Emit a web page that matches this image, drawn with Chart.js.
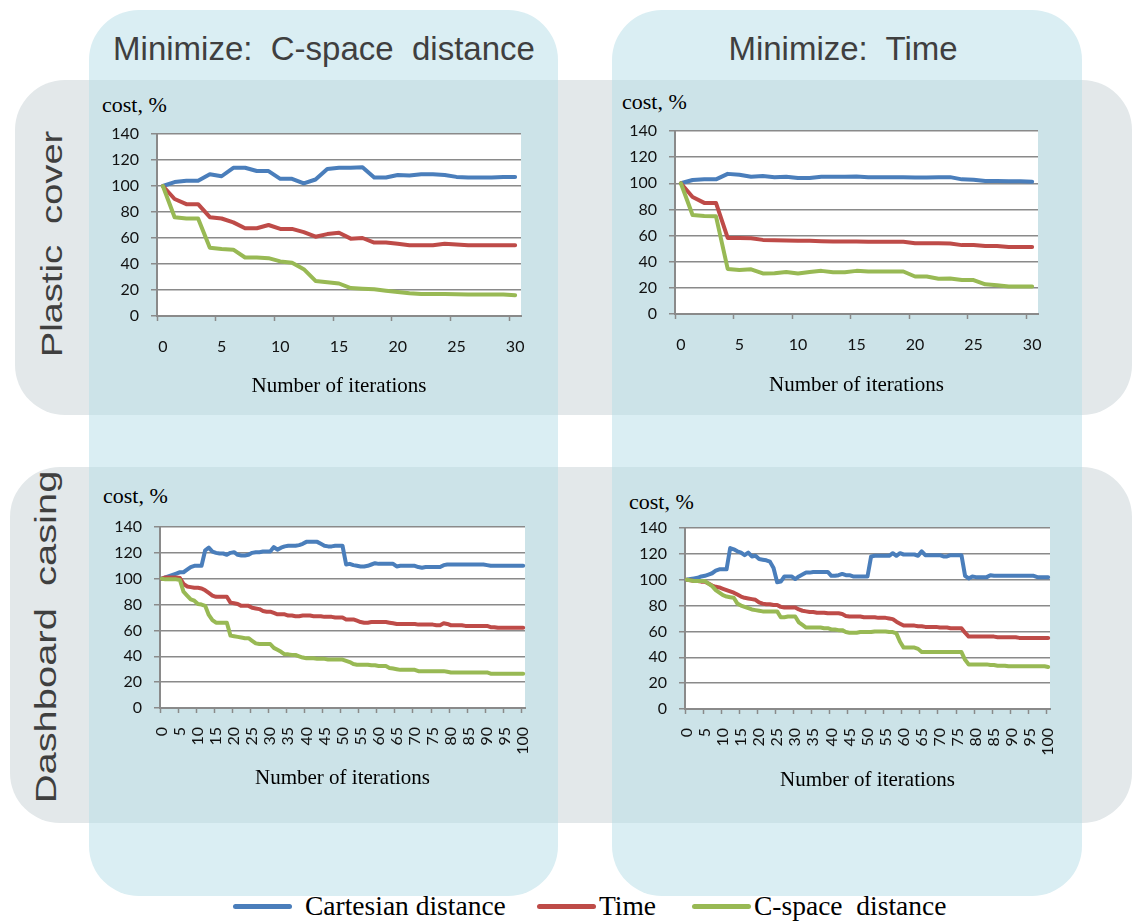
<!DOCTYPE html>
<html>
<head>
<meta charset="utf-8">
<script src="https://cdn.jsdelivr.net/npm/chart.js@4.4.0/dist/chart.umd.min.js"></script>
<style>
  body { margin: 0; width: 1132px; height: 924px; background: #fff; position: relative; overflow: hidden; }
  .abs { position: absolute; }
  .col { background: #daeef3; border-radius: 50px; }
  .row { background: #e3e8ea; border-radius: 50px; }
  .mix { background: #cce3e8; }
  .head { font-family: "Liberation Sans", Arial, sans-serif; font-size: 33px; color: #3f3f3f; white-space: pre; line-height: 1; transform: translate(-50%, -50%); }
  .side { font-family: "Liberation Sans", Arial, sans-serif; font-size: 30px; color: #3f3f3f; white-space: pre; line-height: 1; }
  .cost { font-family: "Liberation Serif", "Times New Roman", serif; font-size: 22px; color: #000; line-height: 1; white-space: pre; }
  canvas { position: absolute; }
  .item { position: absolute; top: 890px; display: flex; align-items: center; font-family: "Liberation Serif", "Times New Roman", serif; font-size: 27.5px; white-space: pre; }
  .swatch { width: 59px; height: 5px; border-radius: 3px; }
</style>
</head>
<body>
<!-- background panels -->
<div class="abs col" style="left:89px;top:10px;width:469px;height:886px"></div>
<div class="abs col" style="left:612px;top:10px;width:470px;height:886px"></div>
<div class="abs row" style="left:15px;top:80px;width:1117px;height:335px"></div>
<div class="abs row" style="left:10px;top:467px;width:1122px;height:356px"></div>
<div class="abs mix" style="left:89px;top:80px;width:469px;height:335px"></div>
<div class="abs mix" style="left:612px;top:80px;width:470px;height:335px"></div>
<div class="abs mix" style="left:89px;top:467px;width:469px;height:356px"></div>
<div class="abs mix" style="left:612px;top:467px;width:470px;height:356px"></div>

<div class="abs head" style="left:324px;top:48px">Minimize:  C-space  distance</div>
<div class="abs head" style="left:843px;top:48px">Minimize:  Time</div>
<div class="abs side" style="left:52px;top:244px;transform:translate(-50%,-50%) rotate(-90deg) scaleX(1.27)">Plastic  cover</div>
<div class="abs side" style="left:46px;top:637px;transform:translate(-50%,-50%) rotate(-90deg) scaleX(1.33)">Dashboard  casing</div>

<div class="abs cost" style="left:102px;top:94px">cost, %</div>
<div class="abs cost" style="left:622px;top:91px">cost, %</div>
<div class="abs cost" style="left:103px;top:485px">cost, %</div>
<div class="abs cost" style="left:629px;top:491px">cost, %</div>

<canvas id="c1"></canvas>
<canvas id="c2"></canvas>
<canvas id="c3"></canvas>
<canvas id="c4"></canvas>

<div id="legend"></div>

<script>
// --- data ---
const seriesNames = ['Cartesian distance', 'Time', 'C-space  distance'];
const seriesColors = ['#4a7ebb', '#be4b48', '#98b954'];
const yTicks = [0, 20, 40, 60, 80, 100, 120, 140];

const iter30 = [0,1,2,3,4,5,6,7,8,9,10,11,12,13,14,15,16,17,18,19,20,21,22,23,24,25,26,27,28,29,30];
const iter100 = [0,1,2,3,4,5,6,7,8,9,10,11,12,13,14,15,16,17,18,19,20,21,22,23,24,25,26,27,28,29,30,
  31,32,33,34,35,36,37,38,39,40,41,42,43,44,45,46,47,48,49,50,51,52,53,54,55,56,57,58,59,60,
  61,62,63,64,65,66,67,68,69,70,71,72,73,74,75,76,77,78,79,80,81,82,83,84,85,86,87,88,89,90,
  91,92,93,94,95,96,97,98,99,100];

// Plastic cover, minimize C-space distance
const plasticCspaceCart = [100,103,104,104,109,107.5,114,114,111.5,111.5,105.5,105.5,102,105,113,114,114,114.5,106.5,106.5,108.5,108,109,109,108.5,107,106.5,106.5,106.5,107,107];
const plasticCspaceTime = [100,90,86,86,76,75,72,67.5,67.5,70,67,67,64.5,61,63,64,59.5,60,56.5,56.5,55.5,54.5,54.5,54.5,55.5,55,54.5,54.5,54.5,54.5,54.5];
const plasticCspaceCsp = [100,76,75,75,52.5,51.5,51,45,45,44.5,42,41,36,27,26,25,21.5,21,20.5,19.5,18.5,17.5,17,17,17,16.8,16.5,16.5,16.5,16.5,16];

// Plastic cover, minimize time
const plasticTimeCart = [100,102.5,103,103,107.2,106.5,105,105.5,104.7,105,104,104,105,105,105,105.2,104.7,104.7,104.7,104.7,104.5,104.5,104.7,104.7,103,102.7,101.7,101.8,101.5,101.5,101.2];
const plasticTimeTime = [100,89.5,85,85,58.2,58.2,58,56.7,56.5,56.3,56,56,55.7,55.5,55.5,55.5,55.3,55.3,55.3,55.2,54.2,54.2,54.2,54,52.7,52.7,52,52,51.2,51.2,51.2];
const plasticTimeCsp = [100,75.7,75,74.7,34.5,33.7,34.2,31,31.2,32.2,31,32.2,33,32,32,33,32.5,32.5,32.5,32.5,28.7,28.7,27,27.2,26,26,22.7,22,21,21,21];

// Dashboard casing, minimize C-space distance
const dashCspaceCart = [100,101,102,103,104,105,105,107,109,110,110,
  110,122,124,121,120,119.5,119.5,118.5,120,120.5,
  118.5,118,118,118.5,120,120.5,120.5,121,121,121,
  124.5,122.5,124,125,125.5,125.5,125.5,126,127,128.5,
  128.5,128.5,128.5,127,125.5,125,125,125.5,125.5,125.5,
  111,111.5,110.5,110,109.5,109.5,110,111,112,111.5,
  111.5,111.5,111.5,111.5,109.5,110,110,110,110,110,
  109,108.5,109,109,109,109,109,110.5,111,111,
  111,111,111,111,111,111,111,111,111,110.5,
  110,110,110,110,110,110,110,110,110,110];
const dashCspaceTime = [100,101,101,101,101,100.5,96,94,93.5,93,93,
  92.5,91,89,87,86,86,86,86,81.5,81,
  80.5,79,79,79,77.5,77,76.5,75,74.5,74.5,
  73.5,72.5,72.5,72.5,71.5,71.5,71,71,71.5,71.5,
  71.5,71,71,71,70.5,70.5,70.5,70,70,70,
  68.5,68.5,68.5,67.5,66.5,66,66,66.5,66.5,66.5,
  66.5,66.5,66,65.5,65,65,65,65,65,65,
  64.5,64.5,64.5,64.5,64.5,64,64,65.5,65,64,
  64,64,64,63.5,63.5,63.5,63.5,63.5,63.5,63.5,
  62.5,62.5,62,62,62,62,62,62,62,62];
const dashCspaceCsp = [100,99.5,99.5,99.5,99.5,99,90,87,84,83,80.5,
  80,79,72,68,66,66,66,66,56,55.5,
  55,54.5,54,54,52,50,49.5,49.5,49.5,49.5,
  46.5,45,43.5,41.5,41.5,41,41,40,39,38.5,
  38.5,38.5,38,38,38,37.5,37.5,37.5,37.5,37.5,
  36.5,35.5,34,33.5,33.5,33.5,33.5,33,33,32.5,
  32.5,32.5,31,30.5,30,29.5,29.5,29.5,29.5,29.5,
  28.5,28.5,28.5,28.5,28.5,28.5,28.5,28.5,28,27.5,
  27.5,27.5,27.5,27.5,27.5,27.5,27.5,27.5,27.5,27.5,
  26.5,26.5,26.5,26.5,26.5,26.5,26.5,26.5,26.5,26.5];

// Dashboard casing, minimize time
const dashTimeCart = [100,100.5,101,101.5,102.5,103,104,105,107,108,108,
  108,124.5,123.5,122,121,119,121,118,118.5,116,
  115.5,115,114,109,98,98.5,102.5,102.5,102.5,100.5,
  102.5,104,105.5,105.5,106,106,106,106,106,103,
  103,103.5,104.5,103.5,103.5,102.5,102.5,102.5,102.5,102.5,
  118,118.5,118.5,118.5,118.5,118.5,120.5,118.5,120.5,119.5,
  119.5,119.5,119.5,118.5,122,119,119,119,119,119,
  118,118,119,119,119,119,103,101,102.5,102,
  102,102,102,103.5,103,103,103,103,103,103,
  103,103,103,103,103,103,102,102,102,102];
const dashTimeTime = [100,99.5,99,99,98.5,98.5,97,95.5,94.5,94,93,
  92,91,90,88.5,87,86,85.5,85,84.5,82.5,
  81.5,81,81,80.5,80.5,79,78.5,78.5,78.5,78.5,
  77,76,75.5,75,75,74.5,74.5,74.5,74,74,
  74,74,73.5,72,71.5,71.5,71.5,71.5,71,71,
  71,71,70.5,70.5,70.5,70,69.5,67.5,66,64.5,
  64.5,64.5,64.5,64,64,63.5,63.5,63.5,63.5,63,
  63,63,62.5,62.5,62.5,62.5,59,56,56,56,
  56,56,56,56,56,55.5,55.5,55.5,55.5,55.5,
  55.5,55,55,55,55,55,55,55,55,55];
const dashTimeCsp = [100,99.5,99,99,99,99,97,95,92,90,88,
  87,86.5,86,81.5,80,79,78,77,76.5,76,
  75.5,75.5,75.5,75.5,75.5,71,71,71.5,71.5,71.5,
  67,65,63,63,63,63,63,62.5,62.5,61.5,
  61.5,61,61,59.5,59,59,59,59.5,59.5,59.5,
  59.5,60,60,60,60,59.5,59.5,58.5,52,47.5,
  47.5,47.5,47.5,46.5,44,44,44,44,44,44,
  44,44,44,44,44,44,38,34.5,34.5,34.5,
  34.5,34.5,34.5,34,34,33.5,33.5,33.5,33,33,
  33,33,33,33,33,33,33,33,33,32.5];

// --- layout of the four panels (plot area edges and x-title centre, page px) ---
const YW = 52, PT = 23, PR = 36;
const panels = [
  { id: 'c1', labels: iter30, series: [plasticCspaceCart, plasticCspaceTime, plasticCspaceCsp],
    left: 157, top: 134, right: 521, bottom: 316, titleMid: 386, rot: 0 },
  { id: 'c2', labels: iter30, series: [plasticTimeCart, plasticTimeTime, plasticTimeCsp],
    left: 675, top: 131, right: 1038, bottom: 314, titleMid: 385, rot: 0 },
  { id: 'c3', labels: iter100, series: [dashCspaceCart, dashCspaceTime, dashCspaceCsp],
    left: 160, top: 527, right: 525, bottom: 708, titleMid: 778, rot: 90 },
  { id: 'c4', labels: iter100, series: [dashTimeCart, dashTimeTime, dashTimeCsp],
    left: 685, top: 528, right: 1050, bottom: 709, titleMid: 780, rot: 90 }
];
const legendLeft = [233, 537, 692];
const legendGap = [13, 3, 3];

const axisGrey = '#8a8a8a';
const tickFont = { family: 'Lato', size: 16 };

// white plot background
const plotBg = {
  id: 'plotBg',
  beforeDraw(chart) {
    const { ctx, chartArea: a } = chart;
    ctx.save();
    ctx.fillStyle = '#fff';
    ctx.fillRect(a.left, a.top, a.right - a.left, a.bottom - a.top);
    ctx.restore();
  }
};

panels.forEach(p => {
  const cv = document.getElementById(p.id);
  const cLeft = p.left - YW;
  const cTop = p.top - PT;
  const cW = p.right + PR - cLeft;
  const cH = Math.round(p.titleMid + 12.6 + 4 - cTop);
  const xH = cH - PT - (p.bottom - p.top);
  cv.width = cW; cv.height = cH;
  cv.style.left = cLeft + 'px';
  cv.style.top = cTop + 'px';

  new Chart(cv, {
    type: 'line',
    data: {
      labels: p.labels,
      datasets: p.series.map((d, k) => ({
        label: seriesNames[k],
        data: d,
        borderColor: seriesColors[k],
        borderWidth: 4,
        pointRadius: 0,
        tension: 0,
        fill: false,
        borderJoinStyle: 'round',
        borderCapStyle: 'round',
        order: 2 - k
      }))
    },
    options: {
      responsive: false,
      animation: false,
      layout: { padding: { left: 0, top: PT, right: PR, bottom: 0 } },
      plugins: { legend: { display: false }, tooltip: { enabled: false } },
      scales: {
        x: {
          offset: true,
          grid: {
            offset: true,
            drawOnChartArea: false,
            tickLength: 5,
            tickWidth: 1.5,
            tickColor: ctx => ctx.index % 5 === 0 ? axisGrey : 'rgba(0,0,0,0)'
          },
          border: { color: axisGrey, width: 2 },
          ticks: {
            autoSkip: false,
            minRotation: p.rot,
            maxRotation: p.rot,
            padding: p.rot ? 14 : 16,
            color: '#111',
            font: tickFont,
            callback: (v, i) => i % 5 === 0 ? String(p.labels[i]) : ''
          },
          title: {
            display: true,
            text: 'Number of iterations',
            color: '#000',
            font: { family: '"Liberation Serif", "Times New Roman", serif', size: 21 },
            padding: { top: 4, bottom: 4 }
          },
          afterFit: s => { s.height = xH; }
        },
        y: {
          min: yTicks[0],
          max: yTicks[yTicks.length - 1],
          ticks: { stepSize: 20, padding: 12, color: '#111', font: tickFont },
          grid: { color: axisGrey, lineWidth: 1.5, tickLength: 6, tickColor: axisGrey },
          border: { color: axisGrey, width: 2 },
          afterFit: s => { s.width = YW; }
        }
      }
    },
    plugins: [plotBg]
  });
});

// legend
seriesNames.forEach((name, k) => {
  const item = document.createElement('div');
  item.className = 'item';
  item.style.left = legendLeft[k] + 'px';
  const sw = document.createElement('div');
  sw.className = 'swatch';
  sw.style.background = seriesColors[k];
  sw.style.marginRight = legendGap[k] + 'px';
  const tx = document.createElement('span');
  tx.textContent = name;
  item.appendChild(sw);
  item.appendChild(tx);
  document.body.appendChild(item);
});
</script>
</body>
</html>
